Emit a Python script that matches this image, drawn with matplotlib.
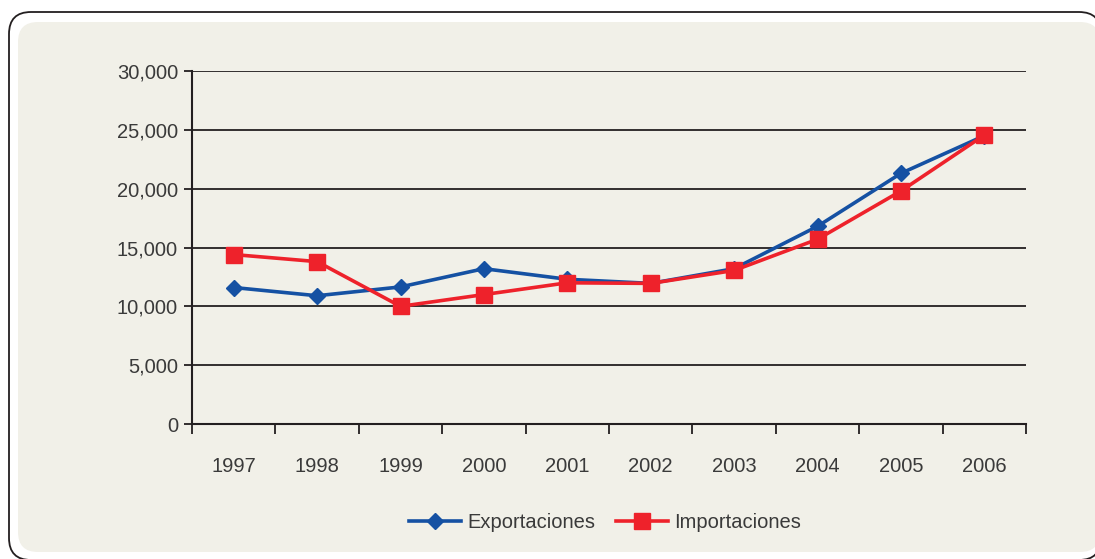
import matplotlib.pyplot as plt
from matplotlib.patches import FancyBboxPatch
from matplotlib.ticker import FuncFormatter, FixedLocator

years = ["1997", "1998", "1999", "2000", "2001", "2002", "2003", "2004", "2005", "2006"]
exportaciones = [11600, 10900, 11650, 13200, 12300, 11950, 13200, 16800, 21300, 24500]
importaciones = [14400, 13800, 10000, 11000, 12000, 11950, 13050, 15700, 19800, 24550]

BLUE = "#1551a3"
RED = "#ee222b"
FILL = "#f1f0e8"
TEXT = "#3a3a3a"
LINE = "#231f20"
FS = 14.5

plt.rcParams["font.family"] = ["Liberation Sans", "DejaVu Sans"]

fig = plt.figure(figsize=(10.95, 5.59), dpi=100)
fig.patch.set_facecolor("white")

# background panel drawn in pixel units
bg = fig.add_axes([0, 0, 1, 1], zorder=-1)
bg.set_xlim(0, 1095)
bg.set_ylim(559, 0)
bg.axis("off")
bg.add_patch(FancyBboxPatch((9, 12), 1092, 548, boxstyle="round,pad=0,rounding_size=22",
                            facecolor="white", edgecolor=LINE, linewidth=1.3))
bg.add_patch(FancyBboxPatch((18, 22), 1082, 530, boxstyle="round,pad=0,rounding_size=20",
                            facecolor=FILL, edgecolor="none"))

ax = fig.add_axes([192 / 1095, 1 - 424 / 559, 834 / 1095, 353 / 559])
ax.set_facecolor("none")

x = list(range(len(years)))
ax.plot(x, exportaciones, color=BLUE, linewidth=2.6, marker="D", markersize=8.5,
        label="Exportaciones", zorder=3)
ax.plot(x, importaciones, color=RED, linewidth=2.6, marker="s", markersize=11.5,
        label="Importaciones", zorder=4)

ax.set_xlim(-0.5, len(years) - 0.5)
ax.set_ylim(0, 30000)
ax.set_yticks(range(0, 30001, 5000))
ax.yaxis.set_major_formatter(FuncFormatter(lambda v, p: f"{int(v):,}"))
ax.grid(axis="y", color=LINE, linewidth=1.3)
ax.set_axisbelow(True)

ax.xaxis.set_major_locator(FixedLocator([i - 0.5 for i in range(len(years) + 1)]))
ax.xaxis.set_minor_locator(FixedLocator(x))
ax.set_xticklabels([])
ax.set_xticklabels(years, minor=True)
ax.tick_params(axis="x", which="major", length=7, width=1.3, color=LINE, direction="out")
ax.tick_params(axis="x", which="minor", length=0, pad=24, labelsize=FS, labelcolor=TEXT)
ax.tick_params(axis="y", length=6, width=1.3, color=LINE, pad=4, labelsize=FS, labelcolor=TEXT)

for side in ["top", "right"]:
    ax.spines[side].set_visible(False)
for side in ["left", "bottom"]:
    ax.spines[side].set_color(LINE)
    ax.spines[side].set_linewidth(1.5)

leg = fig.legend(loc="center", bbox_to_anchor=(605 / 1095, 1 - 523 / 559), ncol=2,
                 frameon=False, fontsize=FS, numpoints=1, handlelength=2.6,
                 handletextpad=0.3, columnspacing=1.0)
for t in leg.get_texts():
    t.set_color(TEXT)

fig.savefig("out.png", dpi=100)
